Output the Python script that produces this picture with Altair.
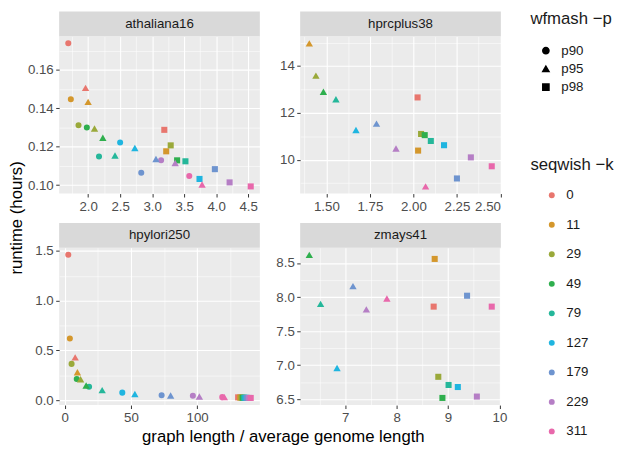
import altair as alt
import pandas as pd

FONT = "Liberation Sans"

K_LEVELS = ["0", "11", "29", "49", "79", "127", "179", "229", "311"]
K_COLORS = ["#E8766E", "#D4972C", "#9AA93A", "#2FAF4E", "#25B79A",
            "#1FB5E0", "#6E94CF", "#B57EC5", "#E868AB"]
P_LEVELS = ["p90", "p95", "p98"]
P_SHAPES = ["circle", "triangle-up", "square"]

# ---- athaliana16 ----
ath_k = [0, 11, 29, 49, 79, 127, 179, 229, 311,
         0, 11, 29, 49, 79, 127, 179, 229, 311,
         0, 11, 29, 49, 79, 127, 179, 229, 311]
ath_p = ["p90"] * 9 + ["p95"] * 9 + ["p98"] * 9
ath_x = [1.69, 1.73, 1.85, 1.98, 2.17, 2.50, 2.83, 3.14, 3.58,
         1.96, 2.00, 2.10, 2.23, 2.42, 2.73, 3.06, 3.36, 3.78,
         3.19, 3.22, 3.29, 3.39, 3.52, 3.74, 3.98, 4.21, 4.54]
ath_y = [0.1739, 0.1447, 0.1312, 0.1300, 0.1149, 0.1222, 0.1064, 0.1129, 0.1047,
         0.1507, 0.1434, 0.1295, 0.1247, 0.1154, 0.1193, 0.1136, 0.1115, 0.1003,
         0.1288, 0.1176, 0.1207, 0.1129, 0.1124, 0.1032, 0.1083, 0.1014, 0.0993]

# ---- hprcplus38 ----
hprc_k = [11, 29, 49, 79, 127, 179, 229, 311,
          0, 11, 29, 49, 79, 127, 179, 229, 311]
hprc_p = ["p95"] * 8 + ["p98"] * 9
hprc_x = [1.402, 1.440, 1.483, 1.555, 1.670, 1.788, 1.900, 2.070,
          2.024, 2.027, 2.044, 2.065, 2.100, 2.176, 2.250, 2.330, 2.450]
hprc_y = [14.97, 13.59, 12.90, 12.58, 11.27, 11.54, 10.48, 8.86,
          12.66, 10.39, 11.10, 11.05, 10.80, 10.62, 9.20, 10.10, 9.72]

# ---- hpylori250 ----
hpy_k = [0, 11, 29, 49, 79, 127, 179, 229, 311,
         0, 11, 29, 49, 79, 127, 179, 229, 311,
         0, 11, 29, 49, 79, 127, 179, 229, 311]
hpy_p = ["p90"] * 9 + ["p95"] * 9 + ["p98"] * 9
hpy_x = [2.7, 3.9, 5.2, 9.1, 18.4, 43.5, 73.2, 96.8, 119.0,
         7.9, 9.6, 12.0, 16.2, 28.3, 53.0, 80.0, 101.7, 120.6,
         131.0, 132.5, 133.5, 134.5, 135.5, 136.5, 137.5, 139.0, 140.5]
hpy_y = [1.46, 0.62, 0.364, 0.213, 0.134, 0.075, 0.049, 0.043, 0.030,
         0.43, 0.28, 0.21, 0.147, 0.100, 0.062, 0.046, 0.036, 0.030,
         0.028, 0.026, 0.025, 0.024, 0.024, 0.023, 0.023, 0.022, 0.022]

# ---- zmays41 ----
zm_k = [49, 79, 127, 179, 229, 311,
        0, 11, 29, 49, 79, 127, 179, 229, 311]
zm_p = ["p95"] * 6 + ["p98"] * 9
zm_x = [6.30, 6.52, 6.84, 7.15, 7.41, 7.81,
        8.72, 8.74, 8.81, 8.89, 9.01, 9.19, 9.37, 9.56, 9.85]
zm_y = [8.62, 7.90, 6.96, 8.16, 7.82, 7.98,
        7.86, 8.56, 6.83, 6.52, 6.71, 6.68, 8.02, 6.54, 7.86]

PW = 204
PH = 160
STRIP = 25
LAB = 13.5
TIT = 17


def expand(v):
    lo, hi = min(v), max(v)
    r = hi - lo
    return [lo - 0.05 * r, hi + 0.05 * r]


def make_axis(major, minor, dom, fmt):
    vals = sorted(major + [m for m in minor if dom[0] <= m <= dom[1]])
    test = f"indexof({major}, datum.value) >= 0"
    return alt.Axis(
        values=vals,
        title=None,
        labelExpr=f"indexof({major}, datum.value) >= 0 ? format(datum.value, '{fmt}') : ''",
        labelOverlap=False,
        gridWidth={"condition": {"test": test, "value": 1.1}, "value": 0.55},
        tickOpacity={"condition": {"test": test, "value": 1}, "value": 0},
    )


color_legend = alt.Legend(
    title="seqwish −k", orient="none", legendX=479, legendY=123,
    symbolType="circle", symbolSize=36, rowPadding=15, symbolOffset=15,
    labelFontSize=LAB, titleFontSize=TIT, titleFontWeight="normal",
    labelFont=FONT, titleFont=FONT, labelColor="#1A1A1A", titleColor="#1A1A1A",
    symbolStrokeWidth=0, symbolOpacity=1, titlePadding=15, labelOffset=8,
)
shape_legend = alt.Legend(
    title="wfmash −p", orient="none", legendX=479, legendY=-25,
    symbolSize=40, rowPadding=3.5, symbolOffset=9,
    symbolFillColor="black", symbolStrokeColor="black",
    labelFontSize=LAB, titleFontSize=TIT, titleFontWeight="normal",
    labelFont=FONT, titleFont=FONT, labelColor="#1A1A1A", titleColor="#1A1A1A",
    titlePadding=16, labelOffset=9,
)


def panel(name, xs, ys, ks, ps, xmaj, xmin, ymaj, ymin, xfmt, yfmt):
    df = pd.DataFrame({"x": xs, "y": ys, "k": [str(k) for k in ks], "p": ps})
    xdom = expand(xs)
    ydom = expand(ys)
    enc = dict(
        x=alt.X("x:Q", scale=alt.Scale(domain=xdom, nice=False, zero=False),
                axis=make_axis(xmaj, xmin, xdom, xfmt)),
        y=alt.Y("y:Q", scale=alt.Scale(domain=ydom, nice=False, zero=False),
                axis=make_axis(ymaj, ymin, ydom, yfmt)),
        color=alt.Color("k:N", scale=alt.Scale(domain=K_LEVELS, range=K_COLORS),
                        legend=color_legend),
        shape=alt.Shape("p:N", scale=alt.Scale(domain=P_LEVELS, range=P_SHAPES),
                        legend=shape_legend),
    )
    base = alt.Chart(df)
    others = base.mark_point(filled=True, size=38, opacity=1).encode(**enc) \
        .transform_filter("datum.p != 'p95'")
    tris = base.mark_point(filled=True, size=56, opacity=1).encode(**enc) \
        .transform_filter("datum.p == 'p95'")
    sdf = pd.DataFrame({"name": [name]})
    strip = alt.Chart(sdf).mark_rect(color="#D9D9D9").encode(
        x=alt.value(0), x2=alt.value(PW), y=alt.value(-STRIP), y2=alt.value(0)
    )
    label = alt.Chart(sdf).mark_text(
        font=FONT, fontSize=LAB, color="#1A1A1A", baseline="middle", align="center"
    ).encode(x=alt.value(PW / 2), y=alt.value(-STRIP / 2), text="name:N")
    return alt.layer(strip, label, others, tris).properties(width=PW, height=PH)


p1 = panel("athaliana16", ath_x, ath_y, ath_k, ath_p,
           [2.0, 2.5, 3.0, 3.5, 4.0, 4.5], [1.75, 2.25, 2.75, 3.25, 3.75, 4.25],
           [0.10, 0.12, 0.14, 0.16], [0.11, 0.13, 0.15, 0.17], ".1f", ".2f")
p2 = panel("hprcplus38", hprc_x, hprc_y, hprc_k, hprc_p,
           [1.5, 1.75, 2.0, 2.25, 2.5], [1.375, 1.625, 1.875, 2.125, 2.375],
           [10, 12, 14], [9, 11, 13, 15], ".2f", "d")
p3 = panel("hpylori250", hpy_x, hpy_y, hpy_k, hpy_p,
           [0, 50, 100], [25, 75, 125],
           [0.0, 0.5, 1.0, 1.5], [0.25, 0.75, 1.25], "d", ".1f")
p4 = panel("zmays41", zm_x, zm_y, zm_k, zm_p,
           [7, 8, 9, 10], [6.5, 7.5, 8.5, 9.5],
           [6.5, 7.0, 7.5, 8.0, 8.5], [6.75, 7.25, 7.75, 8.25], "d", ".1f")

panels = alt.concat(
    p1, p2, p3, p4, columns=2, spacing={"row": 10, "column": 16},
    title=alt.Title("runtime (hours)", orient="left", anchor="middle",
                    fontSize=TIT, fontWeight="normal", font=FONT, color="#000000",
                    offset=1),
)

mid = alt.vconcat(
    panels,
    title=alt.Title("graph length / average genome length", orient="bottom",
                    anchor="middle", fontSize=TIT, fontWeight="normal", font=FONT,
                    color="#000000", offset=5, dx=26),
)

chart = alt.vconcat(mid).resolve_scale(
    color="shared", shape="shared"
).properties(padding=0).configure_view(
    fill="#EBEBEB", strokeWidth=0
).configure_axis(
    domain=False, labelColor="#4D4D4D", tickColor="#333333", gridColor="#FFFFFF",
    labelFont=FONT, labelFontSize=LAB, labelPadding=2.5, tickSize=3.5, tickWidth=1,
)

chart.save("out.html", embed_options={"renderer": "svg", "actions": False})
